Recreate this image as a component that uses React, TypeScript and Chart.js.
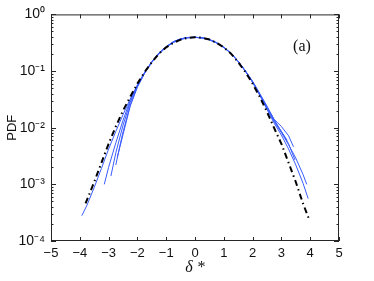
import React, { useEffect, useRef } from 'react';
import { Chart, registerables } from 'chart.js';

Chart.register(...registerables);

// ---- data ----
const xTickValues = [-5, -4, -3, -2, -1, 0, 1, 2, 3, 4, 5];
const yDecades = [1e-4, 1e-3, 1e-2, 1e-1, 1];
const yDecadeLabels = ['10⁻⁴', '10⁻³', '10⁻²', '10⁻¹', '10⁰'];

const blackX = [-3.8, -3.5, -3.25, -3, -2.75, -2.5, -2.25, -2, -1.75, -1.5, -1.25, -1, -0.75, -0.5, -0.25, 0, 0.25, 0.5, 0.75, 1, 1.25, 1.5, 1.75, 2, 2.25, 2.5, 2.75, 3, 3.25, 3.5, 3.75, 3.95];
const blackY = [4.6e-4, 1.1e-3, 2.4e-3, 5.2e-3, 1.05e-2, 2.0e-2, 3.5e-2, 6.0e-2, 9.6e-2, 0.143, 0.203, 0.262, 0.315, 0.358, 0.386, 0.396, 0.388, 0.36, 0.315, 0.262, 0.203, 0.143, 0.096, 0.06, 0.035, 0.019, 0.0098, 0.0052, 0.0024, 0.0011, 4.6e-4, 2.5e-4];

const blue1X = [-3.93, -3.75, -3.5, -3.25, -3, -2.75, -2.5, -2.25, -2, -1.75, -1.5, -1.25, -1, -0.75, -0.5, -0.25, 0, 0.25, 0.5, 0.75, 1, 1.25, 1.5, 1.75, 2, 2.25, 2.5, 2.75, 3, 3.25, 3.5, 3.75, 3.93];
const blue1Y = [2.8e-4, 4.3e-4, 8.8e-4, 1.9e-3, 4.2e-3, 8.6e-3, 0.017, 0.032, 0.057, 0.094, 0.142, 0.2, 0.262, 0.318, 0.36, 0.385, 0.392, 0.386, 0.362, 0.318, 0.265, 0.205, 0.148, 0.1, 0.063, 0.037, 0.021, 0.012, 7.4e-3, 4.2e-3, 2.2e-3, 1.05e-3, 5.6e-4];

const blue2X = [-3.15, -3, -2.75, -2.5, -2.25, -2, -1.75, -1.5, -1.25, -1, -0.75, -0.5, -0.25, 0, 0.25, 0.5, 0.75, 1, 1.25, 1.5, 1.75, 2, 2.25, 2.5, 2.75, 3, 3.25, 3.5, 3.75, 3.88];
const blue2Y = [1.0e-3, 2.0e-3, 5.4e-3, 0.0135, 0.03, 0.056, 0.095, 0.145, 0.206, 0.266, 0.326, 0.366, 0.39, 0.395, 0.385, 0.357, 0.314, 0.262, 0.206, 0.148, 0.101, 0.064, 0.038, 0.022, 0.0128, 8.2e-3, 5.0e-3, 2.9e-3, 1.5e-3, 1.0e-3];

const blue3X = [-2.92, -2.75, -2.5, -2.25, -2, -1.75, -1.5, -1.25, -1, -0.75, -0.5, -0.25, 0, 0.25, 0.5, 0.75, 1, 1.25, 1.5, 1.75, 2, 2.25, 2.5, 2.75, 3, 3.25, 3.47];
const blue3Y = [1.4e-3, 3.6e-3, 0.011, 0.028, 0.055, 0.093, 0.146, 0.21, 0.27, 0.33, 0.37, 0.392, 0.396, 0.384, 0.356, 0.312, 0.26, 0.204, 0.147, 0.1, 0.065, 0.039, 0.023, 0.0135, 8.6e-3, 5.2e-3, 2.7e-3];

const blue4X = [-2.75, -2.6, -2.5, -2.25, -2, -1.75, -1.5, -1.25, -1, -0.75, -0.5, -0.25, 0, 0.25, 0.5, 0.75, 1, 1.25, 1.5, 1.75, 2, 2.25, 2.5, 2.75, 3, 3.25, 3.42];
const blue4Y = [2.2e-3, 5.0e-3, 8.4e-3, 0.025, 0.053, 0.092, 0.144, 0.208, 0.268, 0.327, 0.368, 0.39, 0.394, 0.386, 0.36, 0.316, 0.262, 0.203, 0.146, 0.099, 0.064, 0.039, 0.023, 0.014, 0.0105, 7.2e-3, 4.6e-3];

const blue5X = [-2.7, -2.5, -2.25, -2, -1.75, -1.5, -1.25, -1, -0.75, -0.5, -0.25, 0, 0.25, 0.5, 0.75, 1, 1.25, 1.5, 1.75, 2, 2.25, 2.5, 2.75, 3, 3.2];
const blue5Y = [3.0e-3, 7.5e-3, 0.024, 0.052, 0.091, 0.143, 0.207, 0.267, 0.33, 0.37, 0.39, 0.393, 0.385, 0.358, 0.315, 0.263, 0.206, 0.149, 0.101, 0.066, 0.04, 0.024, 0.0138, 8.5e-3, 6e-3];

const blueSeries = [
  [blue1X, blue1Y],
  [blue2X, blue2Y],
  [blue3X, blue3Y],
  [blue4X, blue4Y],
  [blue5X, blue5Y],
];

const panelLabel = '(a)';
const xTitle = 'δ *';
const yTitle = 'PDF';

const toPoints = (xs: number[], ys: number[]) => xs.map((x, i) => ({ x, y: ys[i] }));
const fmtX = (v: number) => (v < 0 ? '\u2212' + Math.abs(v) : String(v));

const matlabAxes = {
  id: 'matlabAxes',
  afterDatasetsDraw(chart: any) {
    const { ctx, chartArea, scales } = chart;
    const { left, right, top, bottom } = chartArea;
    const xs = scales.x;
    const ys = scales.y;
    ctx.save();
    ctx.strokeStyle = '#262626';
    ctx.lineWidth = 1;
    ctx.strokeRect(left + 0.5, top + 0.5, right - left - 1, bottom - top - 1);
    ctx.beginPath();
    xTickValues.forEach((v) => {
      const px = Math.round(xs.getPixelForValue(v)) + 0.5;
      ctx.moveTo(px, bottom);
      ctx.lineTo(px, bottom - 4);
      ctx.moveTo(px, top);
      ctx.lineTo(px, top + 4);
    });
    yDecades.forEach((d, i) => {
      const py = Math.round(ys.getPixelForValue(d)) + 0.5;
      ctx.moveTo(left, py);
      ctx.lineTo(left + 5, py);
      ctx.moveTo(right, py);
      ctx.lineTo(right - 5, py);
      if (i < yDecades.length - 1) {
        for (let k = 2; k <= 9; k++) {
          const pm = Math.round(ys.getPixelForValue(k * d)) + 0.5;
          ctx.moveTo(left, pm);
          ctx.lineTo(left + 2.5, pm);
          ctx.moveTo(right, pm);
          ctx.lineTo(right - 2.5, pm);
        }
      }
    });
    ctx.stroke();
    ctx.fillStyle = '#111';
    ctx.font = '16px "Liberation Serif", "DejaVu Serif", serif';
    ctx.textAlign = 'center';
    ctx.textBaseline = 'middle';
    ctx.fillText(panelLabel, right - 37, top + 32);
    ctx.restore();
  },
};

export default function App() {
  const ref = useRef<HTMLCanvasElement | null>(null);
  useEffect(() => {
    if (!ref.current) return;
    const datasets: any[] = [
      {
        label: 'model',
        data: toPoints(blackX, blackY),
        borderColor: '#000000',
        borderWidth: 2,
        borderDash: [6, 3.5, 1.5, 3.5],
        pointRadius: 0,
        fill: false,
        order: 0,
      },
      ...blueSeries.map(([xs, ys], i) => ({
        label: 'pdf' + (i + 1),
        data: toPoints(xs, ys),
        borderColor: '#3a5cff',
        borderWidth: 1,
        pointRadius: 0,
        fill: false,
        order: 1,
      })),
    ];
    const chart = new Chart(ref.current, {
      type: 'line',
      data: { datasets },
      plugins: [matlabAxes],
      options: {
        animation: false,
        responsive: false,
        layout: { padding: { top: 14, right: 35, left: 0, bottom: 0 } },
        plugins: { legend: { display: false }, tooltip: { enabled: false } },
        scales: {
          x: {
            type: 'linear',
            min: -5,
            max: 5,
            grid: { display: false, drawTicks: false },
            border: { display: false },
            afterBuildTicks: (s: any) => {
              s.ticks = xTickValues.map((v) => ({ value: v }));
            },
            afterFit: (s: any) => {
              s.height = 40;
            },
            ticks: {
              padding: 5,
              color: '#111',
              font: { family: '"Liberation Sans", Arial, sans-serif', size: 13 },
              callback: (v: any) => fmtX(Number(v)),
              autoSkip: false,
              maxRotation: 0,
            },
            title: {
              display: true,
              text: xTitle,
              color: '#111',
              font: { family: '"Liberation Serif", "DejaVu Serif", serif', size: 16, style: 'italic' },
              padding: { top: 0, bottom: 4 },
            },
          },
          y: {
            type: 'logarithmic',
            min: 1e-4,
            max: 1,
            grid: { display: false, drawTicks: false },
            border: { display: false },
            afterBuildTicks: (s: any) => {
              s.ticks = yDecades.map((v) => ({ value: v }));
            },
            afterFit: (s: any) => {
              s.width = 51;
            },
            ticks: {
              padding: 6,
              color: '#111',
              font: { family: '"Liberation Sans", Arial, sans-serif', size: 14 },
              autoSkip: false,
              callback: (v: any) => {
                const idx = yDecades.findIndex((d) => Math.abs(Math.log10(d) - Math.log10(Number(v))) < 1e-6);
                return idx >= 0 ? yDecadeLabels[idx] : '';
              },
            },
            title: {
              display: true,
              text: yTitle,
              color: '#111',
              font: { family: '"Liberation Sans", Arial, sans-serif', size: 13 },
              padding: { top: 5, bottom: 0 },
            },
          },
        },
      },
    });
    return () => chart.destroy();
  }, []);
  return (
    <div style={{ position: 'absolute', left: 0, top: 0, width: 374, height: 281, background: '#fff' }}>
      <canvas ref={ref} width={374} height={281} style={{ display: 'block' }} />
    </div>
  );
}
